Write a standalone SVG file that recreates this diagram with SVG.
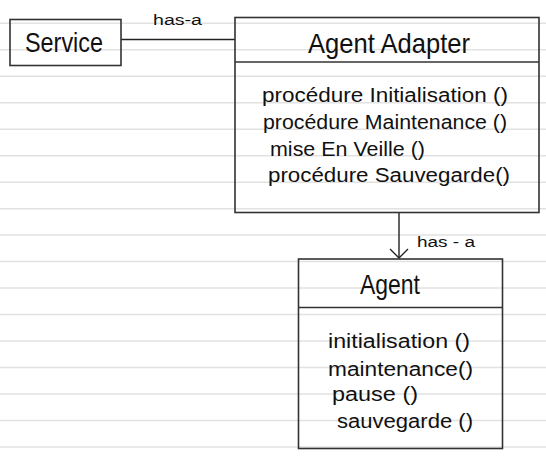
<svg xmlns="http://www.w3.org/2000/svg" width="546" height="465" viewBox="0 0 546 465">
<style>
.rule{stroke:#e2e2e2;stroke-width:1.5}
.box{fill:none;stroke:#333;stroke-width:1.6}
.conn{fill:none;stroke:#222;stroke-width:1.4}
text{font-family:"Liberation Sans","DejaVu Sans",sans-serif;fill:#111}
.title{font-size:28px}
.m{font-size:20px}
.lbl{font-size:14px}
</style>
<rect width="546" height="465" fill="#fff"/>
<g id="ruling">
<line class="rule" x1="0" y1="23.3" x2="546" y2="23.3"/>
<line class="rule" x1="0" y1="49.8" x2="546" y2="49.8"/>
<line class="rule" x1="0" y1="76.3" x2="546" y2="76.3"/>
<line class="rule" x1="0" y1="102.7" x2="546" y2="102.7"/>
<line class="rule" x1="0" y1="129.2" x2="546" y2="129.2"/>
<line class="rule" x1="0" y1="155.7" x2="546" y2="155.7"/>
<line class="rule" x1="0" y1="182.2" x2="546" y2="182.2"/>
<line class="rule" x1="0" y1="208.7" x2="546" y2="208.7"/>
<line class="rule" x1="0" y1="235.1" x2="546" y2="235.1"/>
<line class="rule" x1="0" y1="261.6" x2="546" y2="261.6"/>
<line class="rule" x1="0" y1="288.1" x2="546" y2="288.1"/>
<line class="rule" x1="0" y1="314.6" x2="546" y2="314.6"/>
<line class="rule" x1="0" y1="341.1" x2="546" y2="341.1"/>
<line class="rule" x1="0" y1="367.5" x2="546" y2="367.5"/>
<line class="rule" x1="0" y1="394.0" x2="546" y2="394.0"/>
<line class="rule" x1="0" y1="420.5" x2="546" y2="420.5"/>
<line class="rule" x1="0" y1="447.0" x2="546" y2="447.0"/>
</g>
<g id="connectors">
<line class="conn" x1="121" y1="39.5" x2="235" y2="39.5"/>
<text class="lbl" x="153" y="25" textLength="49" lengthAdjust="spacingAndGlyphs">has-a</text>
<line class="conn" x1="399" y1="212" x2="399" y2="258"/>
<polyline class="conn" points="390,249 399,258 408,249"/>
<text class="lbl" x="417" y="247" textLength="58" lengthAdjust="spacingAndGlyphs">has - a</text>
</g>
<g id="service">
<rect class="box" x="10" y="19.5" width="111" height="46"/>
<text class="title" x="25" y="52" textLength="78" lengthAdjust="spacingAndGlyphs">Service</text>
</g>
<g id="agent-adapter">
<rect class="box" x="235" y="17.5" width="304" height="195"/>
<line class="box" x1="235" y1="62" x2="539" y2="62"/>
<text class="title" x="308" y="53" textLength="162" lengthAdjust="spacingAndGlyphs">Agent Adapter</text>
<text class="m" x="262" y="102" textLength="246" lengthAdjust="spacingAndGlyphs">procédure Initialisation ()</text>
<text class="m" x="263" y="129" textLength="244" lengthAdjust="spacingAndGlyphs">procédure Maintenance ()</text>
<text class="m" x="270" y="156" textLength="155" lengthAdjust="spacingAndGlyphs">mise En Veille ()</text>
<text class="m" x="268" y="182" textLength="242" lengthAdjust="spacingAndGlyphs">procédure Sauvegarde()</text>
</g>
<g id="agent">
<rect class="box" x="298.5" y="259" width="204" height="189.5"/>
<line class="box" x1="298.5" y1="307.5" x2="502.5" y2="307.5"/>
<text class="title" x="360" y="294" textLength="60" lengthAdjust="spacingAndGlyphs">Agent</text>
<text class="m" x="328" y="348" textLength="142" lengthAdjust="spacingAndGlyphs">initialisation ()</text>
<text class="m" x="328" y="376" textLength="145" lengthAdjust="spacingAndGlyphs">maintenance()</text>
<text class="m" x="332" y="401" textLength="86" lengthAdjust="spacingAndGlyphs">pause ()</text>
<text class="m" x="337" y="428" textLength="136" lengthAdjust="spacingAndGlyphs">sauvegarde ()</text>
</g>
</svg>
